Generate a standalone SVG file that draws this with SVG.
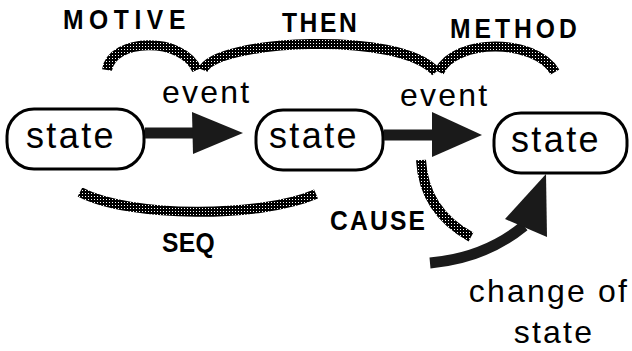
<svg xmlns="http://www.w3.org/2000/svg" width="632" height="351" viewBox="0 0 632 351">
  <defs>
    <!-- dotted screen used for the relation arcs -->
    <pattern id="screen" width="3" height="3" patternUnits="userSpaceOnUse">
      <rect width="3" height="3" fill="#000"/>
      <rect x="1" y="1" width="1" height="1" fill="#fff"/>
    </pattern>
    <style>
      .node rect { fill: #fff; stroke: #000; stroke-width: 3; }
      .node text { font-family: "Liberation Sans", Arial, sans-serif; font-size: 36px; letter-spacing: 2.4px; fill: #000; text-anchor: middle; }
      .lbl { font-family: "Liberation Sans", Arial, sans-serif; font-size: 32px; letter-spacing: 2.2px; fill: #000; }
      .rel { font-family: "Liberation Sans", Arial, sans-serif; font-weight: bold; font-size: 28px; fill: #000; }
      .arc { fill: none; stroke: url(#screen); stroke-width: 10; }
      .shaft { fill: none; stroke: #1a1a1a; stroke-width: 11; }
      .head { fill: #1a1a1a; }
    </style>
  </defs>

  <rect width="632" height="351" fill="#fff"/>

  <!-- states -->
  <g id="state1" class="node">
    <rect x="7" y="109" width="137" height="60" rx="27"/>
    <text x="71" y="148">state</text>
  </g>
  <g id="state2" class="node">
    <rect x="256" y="110" width="127" height="60" rx="27"/>
    <text x="314" y="148">state</text>
  </g>
  <g id="state3" class="node">
    <rect x="494" y="113" width="133" height="60" rx="27"/>
    <text x="556" y="152">state</text>
  </g>

  <!-- connectors -->
  <g id="connectors">
    <!-- event arrows -->
    <line class="shaft" x1="145" y1="133" x2="195" y2="133"/>
    <polygon class="head" points="192,112 243,133 193,154"/>
    <line class="shaft" x1="384" y1="135" x2="435" y2="135"/>
    <polygon class="head" points="432,112 482,135 432,157"/>

    <!-- change of state arrow -->
    <path class="shaft" d="M430,263 Q485,258 524,226"/>
    <polygon class="head" points="546,174 547,237 505,219"/>

    <!-- relation arcs -->
    <path id="arc-motive" class="arc" d="M107,70 C112,38 182,36 197,70"/>
    <path id="arc-then" class="arc" d="M203,70 C215,40 400,30 436,72"/>
    <path id="arc-method" class="arc" d="M439,72 C455,38 535,38 555,72"/>
    <path id="arc-seq" class="arc" d="M80,192 C130,218 260,218 316,194"/>
    <path id="arc-cause" class="arc" d="M421,160 C423,195 440,220 471,237"/>
  </g>

  <!-- labels (relation names are set condensed and spaced out) -->
  <g id="labels">
    <text class="lbl" x="162" y="103">event</text>
    <text class="lbl" x="400" y="106">event</text>
    <text class="lbl" x="549" y="302" text-anchor="middle">change of</text>
    <text class="lbl" x="554" y="343" text-anchor="middle">state</text>
    <text class="rel" transform="translate(63,29) scale(0.88,1)" textLength="139" lengthAdjust="spacing">MOTIVE</text>
    <text class="rel" transform="translate(282,32) scale(0.88,1)" textLength="85" lengthAdjust="spacing">THEN</text>
    <text class="rel" transform="translate(450,38) scale(0.88,1)" textLength="144" lengthAdjust="spacing">METHOD</text>
    <text class="rel" transform="translate(162,252) scale(0.88,1)" textLength="60" lengthAdjust="spacing">SEQ</text>
    <text class="rel" transform="translate(330,230) scale(0.88,1)" textLength="108" lengthAdjust="spacing">CAUSE</text>
  </g>
</svg>
